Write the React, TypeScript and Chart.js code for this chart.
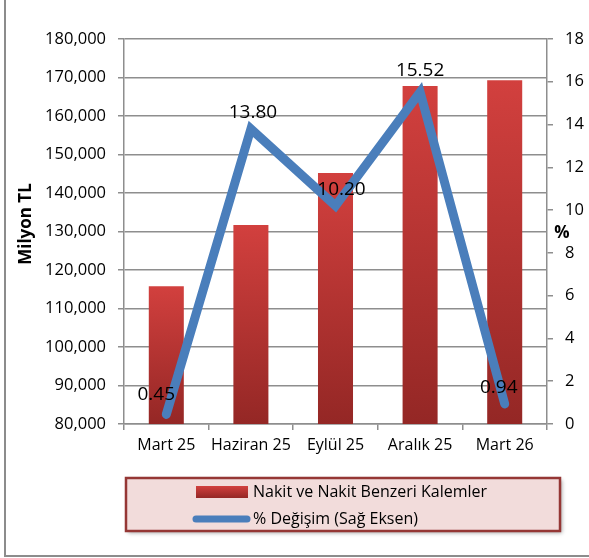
import React, { useEffect, useRef } from "react";
import { Chart, registerables } from "chart.js";

Chart.register(...registerables);

const categories = ["Mart 25", "Haziran 25", "Eylül 25", "Aralık 25", "Mart 26"];
const cashValues = [115800, 131700, 145200, 167800, 169300];
const changeValues = [0.45, 13.8, 10.2, 15.52, 0.94];
const changeLabels = ["0.45", "13.80", "10.20", "15.52", "0.94"];
const barLabel = "Nakit ve Nakit Benzeri Kalemler";
const lineLabel = "% Değişim (Sağ Eksen)";
const leftTitle = "Milyon TL";
const rightTitle = "%";

// small per-label nudges (style only)
const labelNudgeX = [-10, 2, 6, 0, -6];
const labelNudgeY = [-20, -16, -16, -21, -16];

const FONT = "'Open Sans', 'Noto Sans', sans-serif";
const GRID = "#8e8e8e";
const LINE_BLUE = "#4a7ebb";

function barGradient(c: CanvasRenderingContext2D, top: number, bottom: number) {
  const g = c.createLinearGradient(0, top, 0, bottom);
  g.addColorStop(0, "#d2403e");
  g.addColorStop(1, "#942725");
  return g;
}

const decorPlugin = {
  id: "decor",
  beforeDraw(chart: any) {
    const c = chart.ctx as CanvasRenderingContext2D;
    c.save();
    c.fillStyle = "#ffffff";
    c.fillRect(0, 0, chart.width, chart.height);
    c.strokeStyle = "#8c8c8c";
    c.lineWidth = 2;
    c.strokeRect(5, -10, chart.width + 10, 566);
    c.restore();
  },
  afterDatasetsDraw(chart: any) {
    const c = chart.ctx as CanvasRenderingContext2D;
    const meta = chart.getDatasetMeta(0);
    c.save();
    c.font = `19px ${FONT}`;
    c.fillStyle = "#000";
    c.textAlign = "center";
    c.textBaseline = "middle";
    meta.data.forEach((pt: any, i: number) => {
      c.fillText(changeLabels[i], pt.x + labelNudgeX[i], pt.y + labelNudgeY[i]);
    });
    c.restore();
  },
  afterDraw(chart: any) {
    const c = chart.ctx as CanvasRenderingContext2D;
    c.save();
    // axis titles
    c.fillStyle = "#000";
    c.font = `bold 17px ${FONT}`;
    c.textAlign = "center";
    c.textBaseline = "middle";
    c.save();
    c.translate(26, 224);
    c.rotate(-Math.PI / 2);
    c.fillText(leftTitle, 0, 0);
    c.restore();
    c.fillText(rightTitle, 562, 233);

    // legend box
    const lx = 126, ly = 478, lw = 434, lh = 53;
    c.save();
    c.shadowColor = "rgba(0,0,0,0.35)";
    c.shadowBlur = 4;
    c.shadowOffsetX = 2;
    c.shadowOffsetY = 2;
    c.fillStyle = "#f2dcdb";
    c.fillRect(lx, ly, lw, lh);
    c.restore();
    c.strokeStyle = "#953735";
    c.lineWidth = 2.5;
    c.strokeRect(lx, ly, lw, lh);

    // items
    c.fillStyle = barGradient(c, 486, 498);
    c.fillRect(196, 486, 52, 12);
    c.strokeStyle = LINE_BLUE;
    c.lineWidth = 7;
    c.lineCap = "round";
    c.beginPath();
    c.moveTo(196, 519);
    c.lineTo(247, 519);
    c.stroke();

    c.fillStyle = "#000";
    c.font = `16px ${FONT}`;
    c.textAlign = "left";
    c.textBaseline = "middle";
    c.fillText(barLabel, 253, 492);
    c.fillText(lineLabel, 253, 519);
    c.restore();
  },
};

export default function App() {
  const ref = useRef<HTMLCanvasElement | null>(null);

  useEffect(() => {
    document.body.style.margin = "0";
    const canvas = ref.current!;
    const chart = new Chart(canvas, {
      type: "bar",
      data: {
        labels: categories,
        datasets: [
          {
            type: "line",
            label: lineLabel,
            data: changeValues,
            yAxisID: "y1",
            borderColor: LINE_BLUE,
            backgroundColor: LINE_BLUE,
            borderWidth: 9,
            pointRadius: 0,
            borderCapStyle: "round",
            borderJoinStyle: "miter",
            tension: 0,
            order: 0,
          } as any,
          {
            type: "bar",
            label: barLabel,
            data: cashValues,
            yAxisID: "y",
            order: 1,
            categoryPercentage: 1,
            barPercentage: 0.414,
            backgroundColor: (ctx: any) => {
              const chart = ctx.chart;
              const y = chart.scales && chart.scales.y;
              if (!y || !chart.chartArea) return "#c0403d";
              const v = ctx.raw as number;
              const top = y.getPixelForValue(v);
              const bottom = y.getPixelForValue(y.min);
              if (!isFinite(top) || !isFinite(bottom) || bottom <= top) return "#c0403d";
              return barGradient(chart.ctx, top, bottom);
            },
          } as any,
        ],
      },
      options: {
        animation: false,
        responsive: true,
        maintainAspectRatio: false,
        layout: { padding: { top: 39, left: 0, right: 0, bottom: 94 } },
        plugins: {
          legend: { display: false },
          tooltip: { enabled: false },
        },
        scales: {
          x: {
            position: "bottom",
            offset: true,
            grid: {
              offset: true,
              drawOnChartArea: false,
              drawTicks: true,
              tickLength: 6,
              color: GRID,
              lineWidth: 1.5,
            },
            border: { display: true, color: GRID, width: 1.5 },
            ticks: {
              color: "#000",
              font: { family: FONT, size: 16 },
              padding: 6,
              maxRotation: 0,
              autoSkip: false,
            },
            afterFit: (s: any) => {
              s.height = 40;
            },
          },
          y: {
            position: "left",
            min: 80000,
            max: 180000,
            grid: {
              drawOnChartArea: true,
              drawTicks: true,
              tickLength: 6,
              color: GRID,
              lineWidth: 1.5,
            },
            border: { display: true, color: GRID, width: 1.5 },
            ticks: {
              stepSize: 10000,
              color: "#000",
              font: { family: FONT, size: 16.5 },
              padding: 12,
              callback: (v: any) => Number(v).toLocaleString("en-US"),
            },
            afterFit: (s: any) => {
              s.width = 124;
            },
          },
          y1: {
            position: "right",
            min: 0,
            max: 18,
            grid: {
              drawOnChartArea: false,
              drawTicks: true,
              tickLength: 6,
              color: GRID,
              lineWidth: 1.5,
            },
            border: { display: true, color: GRID, width: 1.5 },
            ticks: {
              stepSize: 2,
              color: "#000",
              font: { family: FONT, size: 16.5 },
              padding: 12,
            },
            afterFit: (s: any) => {
              s.width = 42;
            },
          },
        },
      },
      plugins: [decorPlugin],
    });
    return () => chart.destroy();
  }, []);

  return (
    <div style={{ position: "relative", width: 589, height: 558 }}>
      <canvas ref={ref} />
    </div>
  );
}
